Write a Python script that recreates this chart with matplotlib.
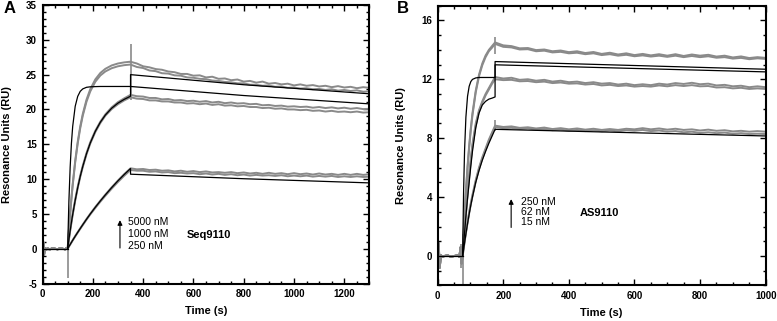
import matplotlib
matplotlib.use("Agg")
import matplotlib.pyplot as plt
from matplotlib.ticker import MultipleLocator

plt.rcParams['font.family'] = ['Liberation Sans', 'DejaVu Sans']
plt.rcParams['axes.unicode_minus'] = False

# ---------------- Panel A data (Seq9110) ----------------
tA_base = [0, 3, 6, 10, 15, 20, 30, 40, 50, 60, 70, 80, 90, 95, 100]
gA_base = [0.0, 0.9, -0.9, 0.1, -0.1, 0.05, -0.1, 0.1, 0.0, -0.1, 0.1, 0.0, -0.1, 0.1, 0.0]

tA_assoc = [100, 105, 110, 115, 120, 130, 140, 150, 160, 175, 190, 210, 230, 250, 275, 300, 325, 350]
gA5000_assoc_r1 = [0.0, 2.69, 5.11, 7.3, 9.26, 12.62, 15.34, 17.55, 19.34, 21.41, 22.92, 24.32, 25.24, 25.84, 26.32, 26.6, 26.76, 26.86]
gA5000_assoc_r2 = [0.0, 2.62, 5.0, 7.15, 9.08, 12.4, 15.1, 17.3, 19.08, 21.12, 22.6, 23.98, 24.88, 25.46, 25.92, 26.2, 26.36, 26.45]
gA1000_assoc_r1 = [0.0, 1.4, 2.7, 3.9, 5.0, 7.05, 8.9, 10.5, 11.9, 13.75, 15.3, 16.95, 18.25, 19.3, 20.3, 21.05, 21.6, 22.1]
gA1000_assoc_r2 = [0.0, 1.3, 2.55, 3.7, 4.85, 6.9, 8.7, 10.3, 11.7, 13.55, 15.1, 16.75, 18.05, 19.1, 20.05, 20.75, 21.3, 21.75]
gA250_assoc_r1 = [0.0, 0.33, 0.63, 0.93, 1.23, 1.82, 2.38, 2.93, 3.47, 4.27, 5.03, 6.0, 6.9, 7.78, 8.82, 9.8, 10.72, 11.55]
gA250_assoc_r2 = [0.0, 0.29, 0.58, 0.88, 1.18, 1.75, 2.3, 2.85, 3.38, 4.17, 4.92, 5.85, 6.75, 7.6, 8.62, 9.58, 10.48, 11.3]

fA5000_assoc = [0.0, 6.88, 11.73, 15.14, 17.55, 20.45, 21.88, 22.6, 22.95, 23.18, 23.25, 23.28, 23.3, 23.3, 23.3, 23.3, 23.3, 23.3]
fA1000_assoc = [0.0, 1.34, 2.6, 3.79, 4.91, 6.95, 8.77, 10.38, 11.8, 13.65, 15.19, 16.86, 18.17, 19.2, 20.18, 20.91, 21.45, 21.9]
fA250_assoc = [0.0, 0.31, 0.61, 0.91, 1.21, 1.79, 2.35, 2.9, 3.44, 4.23, 4.99, 5.95, 6.86, 7.73, 8.77, 9.75, 10.66, 11.52]

tA_dis = [350, 375, 400, 425, 450, 475, 500, 525, 550, 575,
          600, 625, 650, 675, 700, 725, 750, 775, 800, 825,
          850, 875, 900, 925, 950, 975, 1000, 1025, 1050, 1075,
          1100, 1125, 1150, 1175, 1200, 1225, 1250, 1275, 1300]
gA5000_dis_r1 = [26.85, 26.6, 26.2, 26.05, 25.8, 25.7, 25.45, 25.35, 25.1, 25.1,
                 24.85, 24.9, 24.6, 24.7, 24.4, 24.45, 24.2, 24.3, 24.0, 24.1,
                 23.85, 24.0, 23.7, 23.8, 23.6, 23.7, 23.45, 23.6, 23.4, 23.5,
                 23.3, 23.4, 23.2, 23.35, 23.15, 23.25, 23.05, 23.2, 23.1]
gA5000_dis_r2 = [26.45, 26.1, 25.95, 25.6, 25.5, 25.2, 25.15, 24.9, 24.85, 24.6,
                 24.55, 24.4, 24.35, 24.15, 24.1, 23.95, 23.9, 23.75, 23.75, 23.55,
                 23.55, 23.4, 23.45, 23.25, 23.3, 23.1, 23.15, 23.0, 23.05, 22.9,
                 22.95, 22.8, 22.9, 22.7, 22.8, 22.65, 22.75, 22.55, 22.6]
gA1000_dis_r1 = [22.1, 21.9, 21.85, 21.65, 21.65, 21.45, 21.5, 21.3, 21.35, 21.2,
                 21.25, 21.1, 21.2, 21.0, 21.1, 20.9, 21.0, 20.85, 20.9, 20.75,
                 20.8, 20.6, 20.65, 20.5, 20.55, 20.4, 20.45, 20.35, 20.4, 20.25,
                 20.35, 20.2, 20.3, 20.15, 20.25, 20.1, 20.2, 20.05, 20.1]
gA1000_dis_r2 = [21.75, 21.55, 21.5, 21.3, 21.3, 21.15, 21.15, 21.0, 21.0, 20.85,
                 20.9, 20.75, 20.85, 20.65, 20.75, 20.55, 20.6, 20.45, 20.5, 20.35,
                 20.35, 20.2, 20.25, 20.1, 20.15, 20.0, 20.0, 19.9, 19.95, 19.8,
                 19.85, 19.7, 19.8, 19.65, 19.7, 19.6, 19.7, 19.55, 19.6]
gA250_dis_r1 = [11.55, 11.4, 11.45, 11.3, 11.35, 11.2, 11.25, 11.1, 11.2, 11.05,
                11.15, 11.0, 11.1, 10.95, 11.0, 10.9, 11.0, 10.85, 10.95, 10.8,
                10.9, 10.75, 10.9, 10.75, 10.85, 10.7, 10.85, 10.7, 10.8, 10.65,
                10.8, 10.65, 10.75, 10.6, 10.75, 10.6, 10.75, 10.6, 10.7]
gA250_dis_r2 = [11.3, 11.2, 11.2, 11.05, 11.1, 10.95, 11.0, 10.85, 10.9, 10.8,
                10.85, 10.7, 10.8, 10.65, 10.75, 10.6, 10.7, 10.55, 10.65, 10.5,
                10.6, 10.5, 10.55, 10.45, 10.55, 10.4, 10.5, 10.4, 10.5, 10.35,
                10.45, 10.35, 10.45, 10.3, 10.4, 10.3, 10.4, 10.3, 10.35]

tA_fit_dis = [350, 800, 1300]
fA5000_dis = [23.3, 22.0, 20.8]
fA1000_dis = [25.0, 23.55, 22.25]
fA250_dis = [10.7, 10.05, 9.45]

spike_tA = [5, 100, 350]
spike_loA = [-0.9, -4.2, 21.3]
spike_hiA = [0.9, 1.2, 29.4]

# ---------------- Panel B data (AS9110) ----------------
tB_base = [0, 3, 6, 10, 15, 20, 30, 40, 50, 60, 66, 70, 73, 76]
gB_base = [0.0, 0.9, -0.8, 0.05, -0.05, 0.0, 0.05, -0.05, 0.0, 0.05, -0.05, 0.6, -0.5, 0.0]

tB_assoc = [76, 79, 82, 86, 91, 96, 101, 106, 116, 126, 136, 146, 156, 166, 175]
gB250_assoc_r1 = [0.0, 1.49, 2.82, 4.4, 6.09, 7.5, 8.69, 9.69, 11.23, 12.31, 13.07, 13.61, 13.99, 14.26, 14.5]
gB250_assoc_r2 = [0.0, 1.45, 2.75, 4.3, 5.95, 7.35, 8.55, 9.55, 11.1, 12.2, 12.95, 13.5, 13.9, 14.15, 14.4]
gB62_assoc_r1 = [0.0, 0.9, 1.8, 2.9, 4.3, 5.5, 6.6, 7.6, 9.0, 9.9, 10.5, 11.0, 11.4, 11.8, 12.15]
gB62_assoc_r2 = [0.0, 0.85, 1.7, 2.8, 4.15, 5.35, 6.45, 7.45, 8.85, 9.8, 10.4, 10.9, 11.3, 11.7, 12.0]
gB15_assoc_r1 = [0.0, 0.5, 1.0, 1.6, 2.3, 3.0, 3.6, 4.15, 5.15, 6.0, 6.7, 7.3, 7.9, 8.4, 8.85]
gB15_assoc_r2 = [0.0, 0.45, 0.95, 1.55, 2.25, 2.9, 3.5, 4.05, 5.05, 5.9, 6.6, 7.2, 7.8, 8.3, 8.75]

fB250_assoc = [0.0, 4.39, 7.19, 9.42, 10.84, 11.52, 11.84, 11.99, 12.09, 12.12, 12.12, 12.12, 12.12, 12.12, 12.12]
fB62_assoc = [0.0, 0.8, 1.6, 2.7, 3.9, 5.0, 6.1, 7.1, 8.7, 9.7, 10.25, 10.5, 10.65, 10.72, 10.8]
fB15_assoc = [0.0, 0.45, 0.9, 1.5, 2.2, 2.85, 3.45, 4.0, 5.0, 5.8, 6.5, 7.1, 7.65, 8.15, 8.6]

tB_dis = [175, 200, 225, 250, 275, 300, 325, 350, 375, 400,
          425, 450, 475, 500, 525, 550, 575, 600, 625, 650,
          675, 700, 725, 750, 775, 800, 825, 850, 875, 900,
          925, 950, 975, 1000]
gB250_dis_r1 = [14.5, 14.3, 14.25, 14.1, 14.12, 13.98, 14.02, 13.9, 13.95, 13.84,
                13.9, 13.78, 13.85, 13.72, 13.8, 13.68, 13.76, 13.64, 13.72, 13.62,
                13.7, 13.6, 13.7, 13.58, 13.68, 13.6, 13.66, 13.54, 13.6, 13.48,
                13.55, 13.44, 13.5, 13.45]
gB250_dis_r2 = [14.4, 14.2, 14.16, 14.02, 14.04, 13.9, 13.94, 13.82, 13.86, 13.76,
                13.8, 13.7, 13.76, 13.64, 13.7, 13.6, 13.66, 13.56, 13.62, 13.54,
                13.6, 13.52, 13.6, 13.5, 13.58, 13.5, 13.56, 13.46, 13.5, 13.4,
                13.45, 13.36, 13.42, 13.38]
gB62_dis_r1 = [12.15, 12.05, 12.1, 11.96, 12.0, 11.9, 11.96, 11.84, 11.9, 11.8,
               11.84, 11.74, 11.8, 11.7, 11.74, 11.64, 11.7, 11.6, 11.66, 11.6,
               11.7, 11.64, 11.74, 11.68, 11.76, 11.66, 11.7, 11.58, 11.62, 11.52,
               11.56, 11.46, 11.52, 11.46]
gB62_dis_r2 = [12.0, 11.94, 11.96, 11.86, 11.88, 11.8, 11.84, 11.74, 11.78, 11.7,
               11.72, 11.64, 11.68, 11.58, 11.62, 11.54, 11.58, 11.5, 11.54, 11.5,
               11.58, 11.52, 11.6, 11.54, 11.6, 11.52, 11.54, 11.44, 11.46, 11.38,
               11.42, 11.34, 11.38, 11.34]
gB15_dis_r1 = [8.85, 8.76, 8.8, 8.7, 8.74, 8.66, 8.72, 8.62, 8.68, 8.6,
               8.66, 8.58, 8.64, 8.56, 8.62, 8.56, 8.64, 8.6, 8.68, 8.6,
               8.66, 8.58, 8.64, 8.56, 8.6, 8.52, 8.58, 8.5, 8.54, 8.46,
               8.5, 8.44, 8.48, 8.44]
gB15_dis_r2 = [8.75, 8.68, 8.7, 8.62, 8.66, 8.58, 8.62, 8.54, 8.58, 8.5,
               8.56, 8.48, 8.54, 8.46, 8.52, 8.46, 8.54, 8.5, 8.56, 8.48,
               8.52, 8.44, 8.48, 8.4, 8.44, 8.36, 8.4, 8.34, 8.38, 8.3,
               8.34, 8.28, 8.3, 8.28]

tB_fit_dis = [175, 1000]
fB62_dis = [13.2, 12.68]
fB250_dis = [12.98, 12.5]
fB15_dis = [8.6, 8.15]

spike_tB = [5, 70, 76, 175, 175]
spike_loB = [-0.9, -0.8, -2.0, 13.7, 8.5]
spike_hiB = [0.9, 0.8, 1.5, 14.9, 9.2]

GRAY = '#8a8a8a'
GLW = 1.4
BLW = 0.9


def style_axes(ax, xlim, ylim, xmaj, xmin, ymaj, ymin):
    ax.set_xlim(*xlim)
    ax.set_ylim(*ylim)
    ax.xaxis.set_major_locator(MultipleLocator(xmaj))
    ax.xaxis.set_minor_locator(MultipleLocator(xmin))
    ax.yaxis.set_major_locator(MultipleLocator(ymaj))
    ax.yaxis.set_minor_locator(MultipleLocator(ymin))
    ax.tick_params(which='both', direction='in', top=True, right=True, width=1.0)
    ax.tick_params(which='major', length=4.5, labelsize=7, pad=4)
    ax.tick_params(which='minor', length=2.5)
    for lab in ax.get_xticklabels() + ax.get_yticklabels():
        lab.set_fontweight('bold')
    for sp in ax.spines.values():
        sp.set_linewidth(1.5)
    ax.set_xlabel('Time (s)', fontsize=8, fontweight='bold')
    ax.set_ylabel('Resonance Units (RU)', fontsize=8, fontweight='bold')
    ax.xaxis.set_label_coords(0.5, -0.082)


fig = plt.figure(figsize=(7.77, 3.21), dpi=100)
axA = fig.add_axes([0.0547, 0.1168, 0.4208, 0.8676])
axB = fig.add_axes([0.5633, 0.1106, 0.4221, 0.8720])

# ----- Panel A -----
gray_A = [
    (gA5000_assoc_r1, gA5000_dis_r1), (gA5000_assoc_r2, gA5000_dis_r2),
    (gA1000_assoc_r1, gA1000_dis_r1), (gA1000_assoc_r2, gA1000_dis_r2),
    (gA250_assoc_r1, gA250_dis_r1), (gA250_assoc_r2, gA250_dis_r2),
]
for assoc, dis in gray_A:
    axA.plot(tA_base + tA_assoc + tA_dis, gA_base + assoc + dis, color=GRAY, lw=GLW,
             solid_joinstyle='round')
axA.vlines(spike_tA, spike_loA, spike_hiA, color=GRAY, lw=1.2)

axA.plot([0, 100], [0, 0], color='black', lw=BLW)
for assoc, dis in [(fA5000_assoc, fA5000_dis), (fA1000_assoc, fA1000_dis), (fA250_assoc, fA250_dis)]:
    axA.plot(tA_assoc + tA_fit_dis, assoc + dis, color='black', lw=BLW)

style_axes(axA, (0, 1300), (-5, 35), 200, 50, 5, 1)
axA.yaxis.set_label_coords(-0.093, 0.5)

axA.annotate('', xy=(308, 4.5), xytext=(308, -0.3),
             arrowprops=dict(arrowstyle='-|>', color='black', lw=0.8, mutation_scale=7))
for txt, yv in zip(['5000 nM', '1000 nM', '250 nM'], [3.85, 2.1, 0.35]):
    axA.text(338, yv, txt, fontsize=7.5, va='center', ha='left')
axA.text(573, 1.95, 'Seq9110', fontsize=8, fontweight='bold', va='center', ha='left')

# ----- Panel B -----
gray_B = [
    (gB250_assoc_r1, gB250_dis_r1), (gB250_assoc_r2, gB250_dis_r2),
    (gB62_assoc_r1, gB62_dis_r1), (gB62_assoc_r2, gB62_dis_r2),
    (gB15_assoc_r1, gB15_dis_r1), (gB15_assoc_r2, gB15_dis_r2),
]
for assoc, dis in gray_B:
    axB.plot(tB_base + tB_assoc + tB_dis, gB_base + assoc + dis, color=GRAY, lw=GLW,
             solid_joinstyle='round')
axB.vlines(spike_tB, spike_loB, spike_hiB, color=GRAY, lw=1.2)

axB.plot([0, 76], [0, 0], color='black', lw=BLW)
for assoc, dis in [(fB250_assoc, fB250_dis), (fB62_assoc, fB62_dis), (fB15_assoc, fB15_dis)]:
    axB.plot(tB_assoc + tB_fit_dis, assoc + dis, color='black', lw=BLW)

style_axes(axB, (0, 1000), (-2, 17), 200, 50, 4, 1)
axB.yaxis.set_label_coords(-0.097, 0.5)

axB.annotate('', xy=(224, 4.05), xytext=(224, 1.75),
             arrowprops=dict(arrowstyle='-|>', color='black', lw=0.8, mutation_scale=7))
for txt, yv in zip(['250 nM', '62 nM', '15 nM'], [3.7, 2.98, 2.3]):
    axB.text(255, yv, txt, fontsize=7.5, va='center', ha='left')
axB.text(432, 2.9, 'AS9110', fontsize=8, fontweight='bold', va='center', ha='left')

fig.text(0.0129, 0.972, 'A', fontsize=12, fontweight='bold', ha='center', va='center')
fig.text(0.518, 0.974, 'B', fontsize=12, fontweight='bold', ha='center', va='center')

fig.savefig('out.png', dpi=100)
